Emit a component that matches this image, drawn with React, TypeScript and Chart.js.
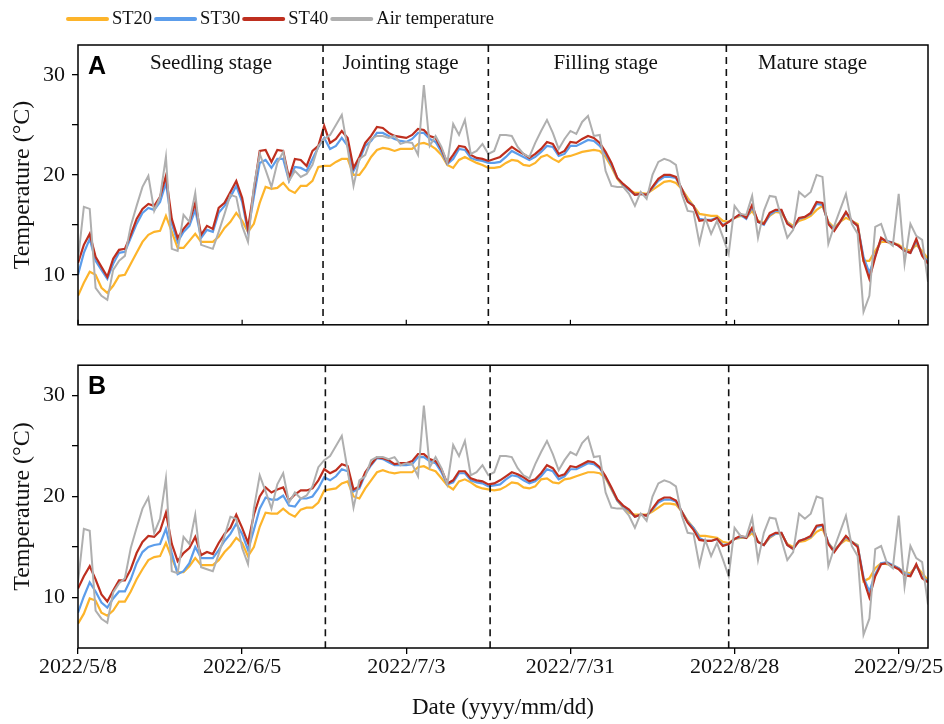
import React, { useEffect, useRef } from "react";
import { Chart, registerables } from "chart.js";
Chart.register(...registerables);

// ---------- data ----------
const tickDays = [0, 28, 56, 84, 112, 140];
const tickLabels = ["2022/5/8", "2022/6/5", "2022/7/3", "2022/7/31", "2022/8/28", "2022/9/25"];
const stageNames = ["Seedling stage", "Jointing stage", "Filling stage", "Mature stage"];
const stageLabelDays = [22.7, 55, 90, 125.3];
const stageBoundsA = [41.8, 70, 110.6];
const stageBoundsB = [42.2, 70.3, 111.0];
const seriesNames = ["ST20", "ST30", "ST40", "Air temperature"];
const seriesColors = ["#FDB42A", "#5C9DEB", "#BE2F1F", "#AFAFAF"];

const airTemp = [
  11.5, 16.8, 16.6, 8.7, 7.9, 7.5, 10.5, 11.4, 11.9, 14.9,
  16.9, 18.8, 19.9, 16.4, 17.8, 21.8, 12.6, 12.4, 16.0, 15.3,
  18.2, 13.0, 12.8, 12.6, 14.3, 16.1, 18.0, 17.8, 14.9, 13.3,
  18.8, 22.1, 20.5, 18.8, 21.2, 22.3, 19.4, 20.4, 19.8, 20.1,
  21.0, 22.9, 23.6, 24.0, 25.0, 26.0, 22.6, 18.9, 21.6, 22.0,
  23.6, 23.9, 23.9, 23.7, 23.9, 23.1, 23.3, 23.2, 22.0, 29.0,
  22.9, 23.9, 22.8, 21.2, 25.1, 24.0, 25.5, 22.1, 22.4, 23.1,
  22.1, 22.4, 24.0, 24.0, 23.9, 22.8, 22.1, 21.8, 23.2, 24.4,
  25.5, 24.2, 22.6, 23.6, 24.4, 24.1, 25.3, 25.9, 23.9, 24.0,
  20.4, 18.9, 18.8, 18.8, 18.1, 16.9, 18.3, 17.6, 20.0, 21.3,
  21.6, 21.4, 21.0, 18.1, 16.4, 16.3, 13.2, 15.7, 14.1, 15.4,
  13.8, 12.1, 16.9, 16.1, 16.0, 17.9, 13.7, 16.4, 17.9, 17.8,
  15.7, 13.7, 14.5, 18.3, 17.8, 18.3, 20.0, 19.8, 13.1, 14.9,
  16.5, 18.1, 15.1, 14.1, 6.3, 7.9, 14.8, 15.1, 13.4, 12.9,
  18.1, 11.1, 15.1, 13.9, 13.5, 9.3,
];

const st20A = [
  7.9, 9.2, 10.3, 10.0, 8.7, 8.2, 8.9, 9.9, 10.0, 11.1,
  12.2, 13.3, 14.0, 14.3, 14.4, 15.9, 14.3, 12.7, 12.7, 13.4,
  14.1, 13.3, 13.3, 13.3, 13.8, 14.7, 15.3, 16.2, 15.4, 14.3,
  15.1, 17.2, 18.8, 18.6, 18.7, 19.2, 18.5, 18.2, 18.9, 18.9,
  19.4, 20.8, 20.9, 20.9, 21.3, 21.6, 21.6, 20.0, 20.0, 20.8,
  21.8, 22.5, 22.7, 22.6, 22.4, 22.6, 22.6, 22.6, 23.1, 23.2,
  23.0, 22.6, 22.0, 21.0, 20.7, 21.5, 21.8, 21.5, 21.2, 21.0,
  20.7, 20.7, 20.8, 21.2, 21.5, 21.4, 21.0, 20.9, 21.2, 21.8,
  22.0, 21.6, 21.3, 21.8, 21.9, 22.1, 22.3, 22.4, 22.5, 22.4,
  21.8, 20.8, 19.6, 18.9, 18.5, 18.2, 18.2, 18.1, 18.5, 18.9,
  19.3, 19.4, 19.2, 18.6, 17.7, 16.9, 16.1, 16.0, 15.9, 15.9,
  15.4, 15.3, 15.7, 15.9, 15.8, 16.4, 15.4, 15.2, 15.9, 16.3,
  16.2, 15.3, 14.9, 15.4, 15.6, 15.9, 16.5, 16.9, 15.3, 14.7,
  15.3, 15.7, 15.4, 15.1, 11.4, 11.4, 12.4, 13.3, 13.3, 13.2,
  13.0, 12.6, 12.4, 13.0, 12.4, 11.6,
];

const st30A = [
  10.0, 12.2, 13.6, 11.4, 10.5, 9.6, 11.1, 12.2, 12.3, 13.7,
  15.1, 16.2, 16.7, 16.5, 17.3, 19.2, 15.1, 13.3, 14.3, 14.9,
  16.5, 13.7, 14.5, 14.3, 16.2, 16.9, 17.8, 18.9, 17.3, 14.3,
  17.8, 21.2, 21.5, 20.7, 21.6, 21.6, 19.4, 20.8, 20.7, 20.4,
  21.6, 22.8, 23.7, 22.6, 22.9, 23.7, 22.9, 20.4, 21.5, 22.9,
  23.4, 24.2, 24.2, 23.9, 23.6, 23.4, 23.3, 23.6, 24.2, 24.2,
  23.6, 23.3, 22.3, 21.1, 21.6, 22.6, 22.5, 21.7, 21.5, 21.4,
  21.2, 21.2, 21.3, 21.8, 22.4, 22.1, 21.8, 21.5, 21.8, 22.3,
  22.9, 22.8, 21.9, 22.1, 22.9, 22.9, 23.2, 23.5, 23.4, 22.9,
  22.1, 21.0, 19.7, 19.0, 18.5, 18.0, 18.1, 18.0, 18.7, 19.4,
  19.8, 19.8, 19.7, 18.6, 17.4, 16.9, 15.6, 15.5, 15.5, 15.7,
  15.0, 15.3, 15.7, 16.0, 15.6, 16.8, 15.3, 15.0, 16.0, 16.4,
  16.4, 15.2, 14.7, 15.6, 15.8, 16.1, 17.1, 17.0, 15.2, 14.5,
  15.3, 16.2, 15.4, 14.9, 11.8, 10.2, 11.9, 13.6, 13.4, 13.2,
  12.9, 12.4, 12.2, 13.4, 12.0, 11.3,
];

const st40A = [
  11.2, 13.0, 14.1, 11.8, 10.8, 9.8, 11.6, 12.5, 12.6, 14.0,
  15.6, 16.6, 17.1, 16.9, 17.8, 19.9, 15.6, 13.7, 14.6, 15.3,
  17.2, 14.0, 14.9, 14.6, 16.7, 17.2, 18.3, 19.4, 17.7, 14.6,
  18.5, 22.4, 22.5, 21.3, 22.5, 22.4, 19.7, 21.6, 21.5, 20.9,
  22.4, 22.9, 24.9, 23.2, 23.6, 24.4, 23.7, 20.7, 21.8, 23.2,
  23.9, 24.8, 24.7, 24.2, 23.9, 23.8, 23.7, 24.0, 24.6, 24.5,
  23.9, 23.7, 22.6, 21.2, 22.0, 22.9, 22.8, 22.0, 21.7, 21.6,
  21.4, 21.6, 21.8, 22.3, 22.8, 22.4, 22.1, 21.7, 22.1, 22.6,
  23.3, 23.1, 22.1, 22.4, 23.3, 23.2, 23.6, 23.9, 23.7, 23.2,
  22.3, 21.2, 19.7, 19.1, 18.6, 18.0, 18.1, 18.0, 18.8, 19.6,
  20.0, 20.0, 19.8, 18.6, 17.3, 16.9, 15.4, 15.5, 15.4, 15.7,
  14.9, 15.3, 15.7, 16.1, 15.7, 17.0, 15.3, 15.1, 16.2, 16.5,
  16.5, 15.1, 14.7, 15.7, 15.8, 16.2, 17.3, 17.2, 15.1, 14.4,
  15.3, 16.3, 15.4, 14.9, 11.4, 9.6, 11.8, 13.7, 13.3, 13.2,
  12.9, 12.4, 12.2, 13.6, 11.9, 11.1,
];

const st20B = [
  7.4, 8.4, 9.9, 9.7, 8.5, 8.2, 8.7, 9.6, 9.6, 10.6,
  11.8, 12.8, 13.7, 14.0, 14.1, 15.4, 13.9, 12.5, 12.5, 13.1,
  13.9, 13.2, 13.2, 13.2, 13.7, 14.5, 15.1, 15.9, 15.4, 14.1,
  15.0, 17.0, 18.4, 18.3, 18.3, 18.8, 18.3, 18.0, 18.7, 18.9,
  18.9, 19.4, 20.6, 20.7, 20.8, 21.3, 21.5, 20.0, 19.8, 20.8,
  21.6, 22.4, 22.6, 22.4, 22.3, 22.4, 22.4, 22.4, 22.9, 23.0,
  22.7, 22.5, 21.8, 21.1, 20.7, 21.5, 21.7, 21.4, 21.0, 20.8,
  20.7, 20.6, 20.7, 21.0, 21.4, 21.3, 20.9, 20.8, 21.0, 21.7,
  21.8, 21.4, 21.3, 21.7, 21.8, 22.0, 22.2, 22.4, 22.4, 22.3,
  21.8, 20.7, 19.6, 18.9, 18.4, 18.2, 18.2, 18.2, 18.5, 18.9,
  19.3, 19.3, 19.2, 18.5, 17.6, 16.9, 16.1, 16.1, 16.0, 15.9,
  15.5, 15.4, 15.8, 15.9, 15.9, 16.4, 15.5, 15.2, 15.9, 16.3,
  16.3, 15.3, 15.0, 15.5, 15.6, 15.9, 16.5, 16.8, 15.4, 14.7,
  15.3, 15.7, 15.5, 15.2, 11.6, 11.9, 12.9, 13.4, 13.3, 13.2,
  12.9, 12.5, 12.4, 13.1, 12.4, 11.7,
];

const st30B = [
  8.5, 10.1, 11.5, 10.6, 9.5, 9.0, 9.9, 10.6, 10.6, 11.8,
  13.4, 14.5, 15.0, 15.2, 15.3, 16.8, 14.4, 12.3, 12.6, 13.4,
  15.0, 13.9, 13.9, 13.9, 14.7, 15.6, 16.3, 17.3, 16.3, 14.7,
  16.7, 18.8, 19.9, 19.7, 19.7, 20.1, 19.1, 19.0, 19.8, 19.8,
  20.0, 20.8, 21.9, 21.6, 22.0, 22.7, 22.5, 20.5, 20.8, 22.2,
  23.1, 23.8, 23.7, 23.4, 23.1, 23.1, 23.1, 23.2, 23.9, 23.9,
  23.5, 23.3, 22.4, 21.2, 21.4, 22.3, 22.3, 21.6, 21.4, 21.3,
  21.0, 21.1, 21.2, 21.7, 22.1, 22.0, 21.6, 21.3, 21.5, 22.0,
  22.7, 22.5, 21.7, 22.0, 22.7, 22.7, 23.0, 23.3, 23.2, 22.8,
  21.9, 20.8, 19.6, 19.0, 18.6, 18.0, 18.2, 18.1, 18.7, 19.4,
  19.7, 19.7, 19.5, 18.5, 17.5, 16.9, 15.9, 15.6, 15.6, 15.8,
  15.2, 15.3, 15.8, 16.0, 15.9, 16.7, 15.5, 15.2, 16.0, 16.3,
  16.4, 15.2, 14.8, 15.6, 15.8, 16.0, 17.0, 17.1, 15.4, 14.6,
  15.3, 16.0, 15.5, 15.1, 12.0, 10.6, 12.3, 13.4, 13.5, 13.2,
  12.9, 12.4, 12.2, 13.2, 12.0, 11.6,
];

const st40B = [
  10.9, 12.1, 13.1, 11.8, 10.3, 9.6, 10.7, 11.7, 11.7, 12.8,
  14.4, 15.5, 16.1, 16.0, 16.6, 18.4, 15.3, 13.6, 14.4, 14.9,
  16.0, 14.2, 14.5, 14.3, 15.4, 16.3, 16.9, 18.2, 16.9, 15.4,
  18.2, 20.0, 20.9, 20.4, 20.7, 20.9, 19.6, 20.2, 20.6, 20.6,
  20.8, 21.6, 22.7, 22.3, 22.6, 23.2, 23.0, 20.7, 21.0, 22.4,
  23.2, 23.9, 23.8, 23.6, 23.2, 23.3, 23.3, 23.5, 24.2, 24.2,
  23.7, 23.5, 22.7, 21.3, 21.6, 22.5, 22.5, 21.8, 21.6, 21.5,
  21.2, 21.3, 21.6, 22.0, 22.4, 22.2, 21.9, 21.5, 21.7, 22.3,
  23.1, 22.8, 22.0, 22.2, 23.0, 22.9, 23.2, 23.5, 23.4, 22.9,
  22.0, 20.9, 19.7, 19.1, 18.7, 18.0, 18.2, 18.1, 18.8, 19.6,
  19.9, 19.9, 19.6, 18.5, 17.4, 16.7, 15.7, 15.6, 15.6, 15.8,
  15.1, 15.3, 15.8, 16.1, 15.9, 16.9, 15.5, 15.2, 16.1, 16.4,
  16.4, 15.2, 14.8, 15.6, 15.8, 16.1, 17.1, 17.2, 15.3, 14.5,
  15.3, 16.1, 15.5, 15.0, 11.8, 10.0, 12.1, 13.3, 13.4, 13.1,
  12.8, 12.2, 12.1, 13.3, 11.9, 11.5,
];

// ---------- styling ----------
const SERIF = '"Liberation Serif", "Times New Roman", serif';
const SANS = '"Liberation Sans", Arial, sans-serif';

function toPoints(arr: number[]) {
  return arr.map((y, i) => ({ x: i, y }));
}

function makeDatasets(series: number[][]) {
  const orders = [3, 2, 1, 0];
  const widths = [2.2, 2.2, 2.2, 2];
  return series.map((s, i) => ({
    label: seriesNames[i],
    data: toPoints(s),
    borderColor: seriesColors[i],
    backgroundColor: seriesColors[i],
    borderWidth: widths[i],
    pointRadius: 0,
    tension: 0,
    fill: false,
    order: orders[i],
  }));
}

function panelPlugin(letter: string, bounds: number[], showStages: boolean, showLegend: boolean, inwardTicks: boolean) {
  return {
    id: "panel" + letter,
    afterDatasetsDraw(chart: any) {
      const { ctx, chartArea: a, scales } = chart;
      const xs = scales.x;
      ctx.save();
      // stage boundaries
      ctx.strokeStyle = "#111";
      ctx.lineWidth = 1.6;
      ctx.setLineDash([7, 5]);
      bounds.forEach((d) => {
        const px = xs.getPixelForValue(d);
        ctx.beginPath();
        ctx.moveTo(px, a.top);
        ctx.lineTo(px, a.bottom);
        ctx.stroke();
      });
      ctx.setLineDash([]);
      // frame
      ctx.strokeStyle = "#000";
      ctx.lineWidth = 1.5;
      ctx.strokeRect(a.left, a.top, a.right - a.left, a.bottom - a.top);
      if (inwardTicks) {
        ctx.lineWidth = 1.2;
        tickDays.forEach((d) => {
          const px = xs.getPixelForValue(d);
          ctx.beginPath();
          ctx.moveTo(px, a.bottom);
          ctx.lineTo(px, a.bottom - 5);
          ctx.stroke();
        });
      }
      // panel letter
      ctx.fillStyle = "#000";
      ctx.font = "bold 25px " + SANS;
      ctx.textAlign = "left";
      ctx.textBaseline = "middle";
      ctx.fillText(letter, a.left + 10, a.top + 22);
      // stage names
      if (showStages) {
        ctx.font = "21px " + SERIF;
        ctx.textAlign = "center";
        ctx.fillStyle = "#111";
        stageNames.forEach((n, i) => {
          ctx.fillText(n, xs.getPixelForValue(stageLabelDays[i]), a.top + 18);
        });
      }
      ctx.restore();
    },
    afterDraw(chart: any) {
      if (!showLegend) return;
      const { ctx } = chart;
      ctx.save();
      ctx.font = "18.5px " + SERIF;
      ctx.textBaseline = "middle";
      ctx.textAlign = "left";
      let x = 66;
      const y = 19;
      seriesNames.forEach((n, i) => {
        ctx.strokeStyle = seriesColors[i];
        ctx.lineWidth = 4;
        ctx.lineCap = "round";
        ctx.beginPath();
        ctx.moveTo(x + 2, y);
        ctx.lineTo(x + 41, y);
        ctx.stroke();
        ctx.fillStyle = "#111";
        ctx.fillText(n, x + 46, y);
        x += 46 + ctx.measureText(n).width + 2;
      });
      ctx.restore();
    },
  };
}

function makeConfig(series: number[][], letter: string, bounds: number[], top: boolean): any {
  const yTitle = {
    display: true,
    text: "Temperature (°C)",
    font: { family: SERIF, size: 24 },
    color: "#111",
    padding: { top: 8, bottom: 0 },
  };
  return {
    type: "line",
    data: { datasets: makeDatasets(series) },
    plugins: [panelPlugin(letter, bounds, top, top, top)],
    options: {
      animation: false,
      responsive: false,
      devicePixelRatio: 1,
      events: [],
      layout: { padding: { top: top ? 45 : 10, right: 16, left: 0, bottom: 0 } },
      plugins: { legend: { display: false }, tooltip: { enabled: false } },
      scales: {
        x: {
          type: "linear",
          min: 0,
          max: 145,
          afterBuildTicks: (s: any) => {
            s.ticks = tickDays.map((v) => ({ value: v }));
          },
          afterFit: (s: any) => {
            s.height = top ? 7 : 76;
          },
          border: { display: false },
          grid: {
            display: !top,
            drawOnChartArea: false,
            drawTicks: true,
            tickLength: 6,
            color: "#000",
            lineWidth: 1.3,
          },
          ticks: {
            display: !top,
            autoSkip: false,
            maxRotation: 0,
            padding: 0,
            color: "#111",
            font: { family: SERIF, size: 22 },
            callback: (v: any) => {
              const i = tickDays.indexOf(Number(v));
              return i >= 0 ? tickLabels[i] : "";
            },
          },
          title: {
            display: !top,
            text: "Date (yyyy/mm/dd)",
            font: { family: SERIF, size: 23 },
            color: "#111",
            padding: { top: 0, bottom: 2 },
          },
        },
        y: {
          min: 5,
          max: 33,
          afterBuildTicks: (s: any) => {
            s.ticks = [10, 15, 20, 25, 30].map((v) => ({ value: v }));
          },
          afterFit: (s: any) => {
            s.width = 78;
          },
          border: { display: false },
          grid: {
            drawOnChartArea: false,
            drawTicks: true,
            tickLength: 6,
            color: "#000",
            lineWidth: 1.3,
          },
          ticks: {
            padding: 7,
            color: "#111",
            font: { family: SERIF, size: 22 },
            callback: (v: any) => (Number(v) % 10 === 0 ? String(v) : ""),
          },
          title: yTitle,
        },
      },
    },
  };
}

function Panel({ series, letter, bounds, top, height }: { series: number[][]; letter: string; bounds: number[]; top: boolean; height: number }) {
  const ref = useRef<HTMLCanvasElement | null>(null);
  useEffect(() => {
    if (!ref.current) return;
    const chart = new Chart(ref.current, makeConfig(series, letter, bounds, top));
    return () => chart.destroy();
  }, []);
  return <canvas ref={ref} width={944} height={height} style={{ display: "block", width: 944, height }} />;
}

export default function App() {
  return (
    <div style={{ position: "absolute", left: 0, top: 0, width: 944, height: 724, background: "#fff" }}>
      <Panel series={[st20A, st30A, st40A, airTemp]} letter="A" bounds={stageBoundsA} top={true} height={345} />
      <Panel series={[st20B, st30B, st40B, airTemp]} letter="B" bounds={stageBoundsB} top={false} height={379} />
    </div>
  );
}
